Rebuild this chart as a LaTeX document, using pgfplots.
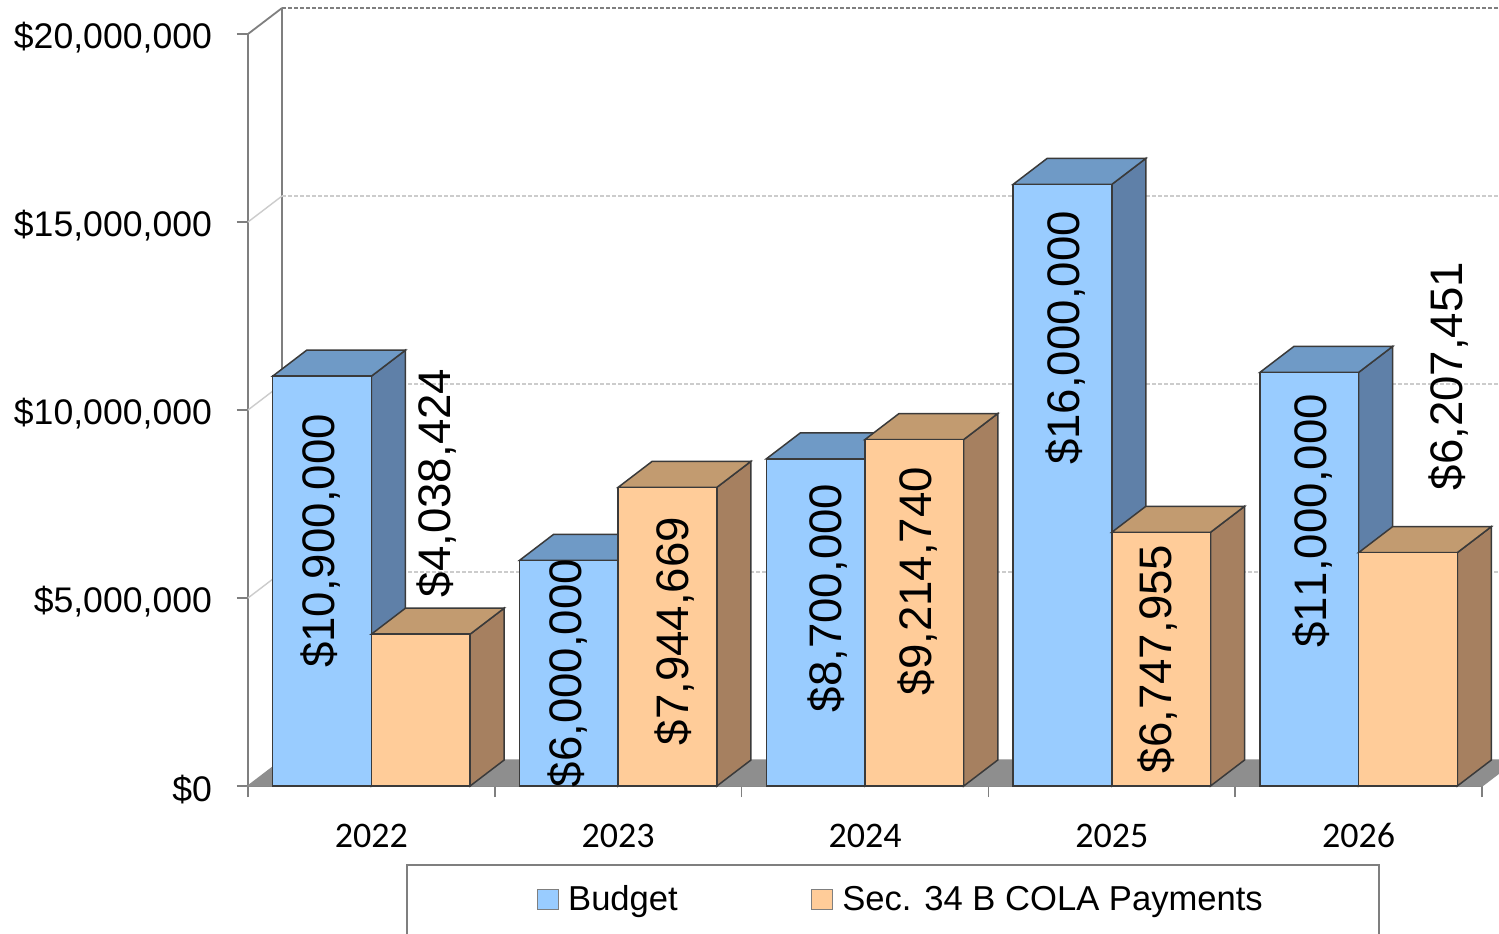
\documentclass[border=0pt]{standalone}
\usepackage{fontspec}
\usepackage{pgfplots}
\pgfplotsset{compat=1.18}
\setmainfont[Kerning=Off]{Liberation Sans}
\newfontfamily\carlito{Carlito}

\definecolor{budgetfront}{HTML}{99CCFF}
\definecolor{budgettop}{HTML}{6F9AC6}
\definecolor{budgetside}{HTML}{5F80A8}
\definecolor{costfront}{HTML}{FFCC99}
\definecolor{costtop}{HTML}{C29B70}
\definecolor{costside}{HTML}{A68060}
\definecolor{floorgray}{HTML}{8E8E8E}
\definecolor{edgegray}{HTML}{3A3A3A}
\definecolor{axisgray}{HTML}{7F7F7F}

\pgfplotsset{
    frontbar/.style={
        ybar, bar width=0.4, draw=edgegray, line width=0.75pt,
        legend image code/.code={
            \path[draw=none] (-9.5pt,0pt) (0pt,0pt);
            \draw[fill=##1,draw=axisgray,line width=0.5pt] (0pt,-5pt) rectangle (10.5pt,5pt);
        },
    },
    face/.style={draw=edgegray, line width=0.75pt, mark=none, forget plot},
    wall/.style={draw=#1, line width=0.7pt, mark=none, forget plot},
}

% side and top face of one bar: left, right, back left, back right, value, value + depth
\newcommand{\barfaces}[8]{
    \addplot[face, fill=#7] coordinates {(#2,0) (#4,691500) (#4,#6) (#2,#5)} -- cycle;
    \addplot[face, fill=#8] coordinates {(#1,#5) (#3,#6) (#4,#6) (#2,#5)} -- cycle;
}
\newcommand{\datalabel}[3]{
    \node[xshift=0.7pt, rotate=90, inner sep=0pt, font=\fontsize{22.8}{24}\selectfont] at (axis cs:#1,#2) {#3};
}

\begin{document}
\begin{tikzpicture}
    \path[use as bounding box, fill=white] (0,0) rectangle (749.5pt,466.5pt);
    \clip (0,0) rectangle (749.5pt,466.5pt);
    \begin{axis}[
        at={(124pt,73.5pt)},
        anchor=south west,
        scale only axis,
        width=617pt,
        height=376pt,
        clip=false,
        xmin=-0.5, xmax=4.5,
        ymin=0, ymax=20000000,
        axis lines*=left,
        axis line style={draw=axisgray, line width=0.9pt},
        tick style={draw=axisgray, line width=0.8pt},
        tick align=outside,
        major tick length=5.5pt,
        xtick={-0.5,0.5,1.5,2.5,3.5,4.5},
        x tick label as interval,
        xticklabels={2022,2023,2024,2025,2026},
        xticklabel style={font=\carlito\fontsize{18}{20}\selectfont, text height=12pt, text depth=0pt, yshift=-9.5pt},
        ytick={0,5000000,10000000,15000000,20000000},
        yticklabels={{\$0},{\$5,000,000},{\$10,000,000},{\$15,000,000},{\$20,000,000}},
        yticklabel style={font=\fontsize{17.8}{20}\selectfont, xshift=-9pt, yshift=-2pt},
        scaled y ticks=false,
        legend columns=2,
        legend cell align=left,
        legend style={
            at={(0.128,-0.1037)},
            anchor=north west,
            draw=axisgray,
            line width=0.8pt,
            fill=white,
            font=\fontsize{17.3}{20}\selectfont,
            minimum width=486pt,
            minimum height=35pt,
            nodes={minimum width=0pt, minimum height=0pt},
            /tikz/column 1/.style={column sep=2.5pt},
            /tikz/column 2/.style={column sep=55.5pt},
            /tikz/column 3/.style={column sep=2.5pt},
        },
    ]

    % back wall and floor
    \addplot[wall=floorgray, fill=floorgray] coordinates {(-0.5,0) (-0.362,691500) (4.638,691500) (4.5,0)} -- cycle;
    \addplot[wall=axisgray, line width=0.9pt] coordinates {(-0.362,691500) (-0.362,20691500)};
    \addplot[wall=axisgray, line width=0.9pt] coordinates {(-0.5,20000000) (-0.362,20691500)};
    \addplot[wall=axisgray, line width=0.9pt, dash pattern=on 2pt off 1pt] coordinates {(-0.362,20691500) (5,20691500)};
    \addplot[wall=black!20] coordinates {(-0.5,15000000) (-0.362,15691500)};
    \addplot[wall=black!20] coordinates {(-0.5,10000000) (-0.362,10691500)};
    \addplot[wall=black!20] coordinates {(-0.5,5000000) (-0.362,5691500)};
    \addplot[wall=black!20, dash pattern=on 2pt off 1pt] coordinates {(-0.362,15691500) (5,15691500)};
    \addplot[wall=black!20, dash pattern=on 2pt off 1pt] coordinates {(-0.362,10691500) (5,10691500)};
    \addplot[wall=black!20, dash pattern=on 2pt off 1pt] coordinates {(-0.362,5691500) (5,5691500)};

    % Budget
    \barfaces{-0.4}{0}{-0.262}{0.138}{10900000}{11591500}{budgetside}{budgettop}
    \barfaces{0.6}{1}{0.738}{1.138}{6000000}{6691500}{budgetside}{budgettop}
    \barfaces{1.6}{2}{1.738}{2.138}{8700000}{9391500}{budgetside}{budgettop}
    \barfaces{2.6}{3}{2.738}{3.138}{16000000}{16691500}{budgetside}{budgettop}
    \barfaces{3.6}{4}{3.738}{4.138}{11000000}{11691500}{budgetside}{budgettop}
    \addplot[frontbar, bar shift=-0.2, fill=budgetfront] coordinates {
        (0,10900000) (1,6000000) (2,8700000) (3,16000000) (4,11000000)
    };
    \addlegendentry{Budget}

    % Sec. 34 B COLA Payments
    \barfaces{0}{0.4}{0.138}{0.538}{4038424}{4729924}{costside}{costtop}
    \barfaces{1}{1.4}{1.138}{1.538}{7944669}{8636169}{costside}{costtop}
    \barfaces{2}{2.4}{2.138}{2.538}{9214740}{9906240}{costside}{costtop}
    \barfaces{3}{3.4}{3.138}{3.538}{6747955}{7439455}{costside}{costtop}
    \barfaces{4}{4.4}{4.138}{4.538}{6207451}{6898951}{costside}{costtop}
    \addplot[frontbar, bar shift=0.2, fill=costfront] coordinates {
        (0,4038424) (1,7944669) (2,9214740) (3,6747955) (4,6207451)
    };
    \addlegendentry{Sec. 34 B COLA Payments}

    % data labels
    \datalabel{-0.2107}{6516000}{\$10,900,000}
    \datalabel{0.2593}{8059000}{\$4,038,424}
    \datalabel{0.790}{3005000}{\$6,000,000}
    \datalabel{1.2237}{4122000}{\$7,944,669}
    \datalabel{1.8436}{5000000}{\$8,700,000}
    \datalabel{2.208}{5452000}{\$9,214,740}
    \datalabel{2.808}{11915000}{\$16,000,000}
    \datalabel{3.181}{3378000}{\$6,747,955}
    \datalabel{3.809}{7048000}{\$11,000,000}
    \datalabel{4.360}{10904000}{\$6,207,451}
    \end{axis}
\end{tikzpicture}
\end{document}
